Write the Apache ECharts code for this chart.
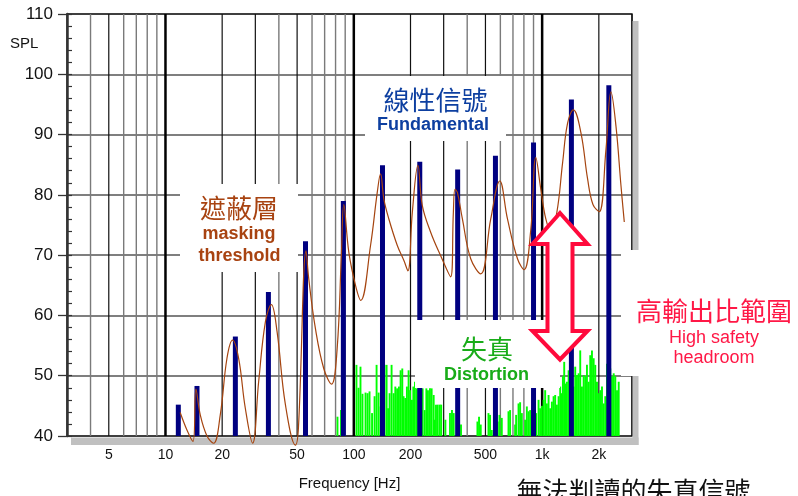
<!DOCTYPE html>
<html><head><meta charset="utf-8">
<script src="https://cdn.jsdelivr.net/npm/echarts@6/dist/echarts.min.js"></script>
<style>html,body{margin:0;padding:0;background:#fff}#c{width:798px;height:496px}</style>
</head><body><div id="c"></div>
<script>
// ---- data ----
const fundamentalFreq = [11.7, 14.7, 23.5, 35.2, 55.4, 88, 142, 224, 356, 565, 900, 1430, 2260];
const fundamentalSPL  = [45.2, 48.3, 56.5, 63.9, 72.3, 79.0, 84.9, 85.5, 84.2, 86.5, 88.7, 95.8, 98.2];

const maskFreq = [11.97, 13.0, 13.99, 14.51, 15.30, 16.61, 18.00, 19.54, 21.21, 22.72, 24.45, 26.54, 29.02, 31.24, 33.91, 36.50, 39.13, 43.33, 48.97, 50.80, 55.83, 57.63, 62.55, 69.24, 76.10, 81.58, 86.0, 88.47, 94.06, 102.1, 108.9, 122.7, 133.2, 138.7, 144.4, 153.5, 170.2, 184.5, 193.8, 204.5, 219.0, 231.1, 255.9, 289.2, 326.8, 337.8, 344.5, 354.8, 377.2, 417.6, 472.0, 533.5, 595.7, 654.5, 739.8, 802.3, 870.8, 926.0, 984.2, 1046, 1112, 1197, 1284, 1365, 1465, 1607, 1744, 1861, 2010, 2182, 2320, 2466, 2622, 2730];
const maskSPL  = [43.9, 41.0, 39.1, 47.8, 43.5, 40.0, 38.8, 43.5, 52.9, 55.9, 52.9, 44.6, 38.8, 49.0, 58.9, 61.8, 57.3, 45.2, 38.5, 41.3, 70.7, 66.1, 57.8, 51.2, 48.6, 54.5, 70.5, 78.4, 70.5, 65.0, 62.5, 71.6, 80.4, 83.5, 79.3, 76.0, 71.6, 69.1, 67.4, 77.1, 84.9, 78.2, 73.8, 69.9, 66.4, 77.1, 80.9, 80.4, 76.0, 69.4, 66.9, 76.0, 82.3, 76.0, 69.4, 67.6, 74.3, 86.2, 80.9, 76.0, 74.0, 77.1, 85.3, 91.9, 94.1, 90.3, 82.6, 78.4, 77.2, 87.5, 97.1, 91.4, 81.5, 75.5];

const distFreq = [81.9, 85.5, 103.3, 105.9, 108.5, 111.2, 115.4, 118.3, 121.2, 125.0, 128.9, 132.1, 135.4, 138.7, 142.1, 145.6, 149.3, 152.1, 154.9, 158.7, 162.7, 166.1, 169.8, 173.6, 177.2, 180.9, 183.8, 187.7, 191.4, 195.4, 199.1, 203.5, 207.0, 211.1, 216.4, 221.0, 226.4, 232.0, 237.8, 242.8, 247.6, 253.7, 259.0, 265.5, 268.7, 273.1, 278.9, 285.8, 291.1, 306.4, 324.1, 332.1, 339.1, 370.9, 453.3, 462.3, 472.1, 518.8, 529.0, 540.2, 581.4, 593.6, 610.6, 662.7, 675.8, 718.6, 727.5, 749.2, 763.9, 780.1, 812.2, 829.4, 846.8, 863.5, 881.7, 929.5, 957.2, 976.1, 996.6, 1017.6, 1037.8, 1059.6, 1081.9, 1103.2, 1126.5, 1150.2, 1172.9, 1197.7, 1222.9, 1247.0, 1273.3, 1289.0, 1309.7, 1332.0, 1353.7, 1382.2, 1409.5, 1439.3, 1469.6, 1498.6, 1530.2, 1562.4, 1593.2, 1626.8, 1661.0, 1693.8, 1729.6, 1766.0, 1800.9, 1838.8, 1877.5, 1914.6, 1955.0, 1996.1, 2035.5, 2078.5, 2122.2, 2164.1, 2209.6, 2256.1, 2300.7, 2349.2, 2398.7, 2446.0, 2497.6, 2550.2];
const distSPL  = [43.2, 44.3, 51.8, 48.0, 51.5, 47.0, 47.2, 47.1, 47.4, 43.8, 46.6, 51.8, 47.2, 44.9, 48.2, 51.8, 51.8, 44.6, 47.1, 51.8, 47.1, 48.2, 47.9, 48.2, 50.9, 51.2, 46.6, 46.3, 48.2, 50.9, 47.6, 46.0, 48.2, 49.0, 47.9, 46.6, 47.9, 47.9, 44.3, 47.9, 47.6, 47.9, 47.9, 46.8, 42.7, 45.2, 45.2, 45.2, 45.2, 42.7, 43.8, 44.3, 43.8, 41.9, 42.4, 43.2, 41.9, 43.8, 43.5, 41.0, 42.4, 43.5, 43.0, 44.1, 44.3, 41.9, 43.5, 45.4, 45.6, 43.8, 42.7, 44.9, 44.1, 44.3, 43.5, 43.8, 46.0, 44.6, 45.0, 46.0, 47.6, 45.4, 46.8, 44.6, 45.7, 46.6, 46.8, 45.2, 46.6, 48.2, 47.1, 49.9, 52.3, 48.7, 49.0, 50.9, 51.5, 49.9, 48.2, 51.5, 50.1, 50.4, 54.2, 48.2, 50.1, 49.9, 51.8, 49.0, 53.4, 54.2, 52.9, 51.8, 49.0, 47.1, 47.6, 48.2, 45.4, 46.6, 52.0, 52.9, 51.2, 49.9, 50.4, 49.9, 47.6, 49.0];

const gridFreq = [4, 5, 6, 7, 8, 9, 10, 20, 30, 40, 50, 60, 70, 80, 90, 100, 200, 300, 400, 500, 600, 700, 800, 900, 1000, 2000, 3000];
const xTickValues = [5, 10, 20, 50, 100, 200, 500, 1000, 2000];
const xTickLabels = ['5', '10', '20', '50', '100', '200', '500', '1k', '2k'];

const Y_MIN = 40, Y_MAX = 110;
const LATIN = '"Liberation Sans", Arial, sans-serif';
const CJK = '"Noto Sans CJK TC", "Noto Sans CJK SC", sans-serif';

function zip(a, b) { return a.map((v, i) => [v, b[i]]); }

function barRenderer(width, color) {
  return function (params, api) {
    const top = api.coord([api.value(0), api.value(1)]);
    const base = api.coord([api.value(0), Y_MIN]);
    return { type: 'rect', shape: { x: top[0] - width / 2, y: top[1], width: width, height: base[1] - top[1] }, style: { fill: color } };
  };
}

function gridRenderer(params, api) {
  const f = api.value(0);
  const top = api.coord([f, Y_MAX]);
  const bot = api.coord([f, Y_MIN]);
  const mant = Math.round(f / Math.pow(10, Math.floor(Math.log10(f) + 1e-9)));
  let stroke = '#7a7a7a', lw = 1.4;
  if (mant === 1) { stroke = '#000'; lw = 2.5; }
  else if (mant === 2 || mant === 3 || mant === 5) { stroke = '#111'; lw = 1.2; }
  return { type: 'line', shape: { x1: top[0], y1: top[1], x2: bot[0], y2: bot[1] }, style: { stroke: stroke, lineWidth: lw } };
}

function labelRenderer(params, api) {
  const p = api.coord([api.value(0), Y_MIN]);
  return { type: 'text', x: p[0], y: p[1] + 19, style: { text: xTickLabels[params.dataIndex], font: '14px ' + LATIN, fill: '#111', align: 'center', verticalAlign: 'middle' } };
}

const chart = echarts.init(document.getElementById('c'));
const txt = (t, x, y, font, fill) => ({ type: 'text', z: 8, x: x, y: y, style: { text: t, font: font, fill: fill, align: 'center', verticalAlign: 'middle' } });

chart.setOption({
  animation: false,
  backgroundColor: '#fff',
  grid: { left: 67, right: 166, top: 14, bottom: 58, show: true, borderColor: '#000', borderWidth: 1.3, backgroundColor: 'transparent' },
  xAxis: {
    type: 'log', logBase: 10, min: 3, max: 3000,
    axisLine: { show: false }, axisTick: { show: false }, axisLabel: { show: false }, splitLine: { show: false },
    name: 'Frequency [Hz]', nameLocation: 'middle', nameGap: 40,
    nameTextStyle: { fontSize: 15, color: '#111', fontFamily: LATIN }
  },
  yAxis: [
    {
      type: 'value', min: Y_MIN, max: Y_MAX, interval: 10,
      axisLine: { show: true, lineStyle: { color: '#333', width: 2.5 } },
      axisTick: { show: true, length: 9, lineStyle: { color: '#333', width: 1.3 } },
      axisLabel: { margin: 14, fontSize: 17, color: '#111', fontFamily: LATIN },
      splitLine: { show: true, showMinLine: false, showMaxLine: false, lineStyle: { color: '#555', width: 1.5 } }
    },
    {
      type: 'value', min: Y_MIN, max: Y_MAX, interval: 2, position: 'left', offset: 0,
      axisLine: { show: false }, axisLabel: { show: false }, splitLine: { show: false },
      axisTick: { show: true, inside: true, length: 5, lineStyle: { color: '#333', width: 1.2 } }
    }
  ],
  series: [
    { type: 'custom', z: 1, renderItem: gridRenderer, data: gridFreq.map(f => [f, Y_MAX]), silent: true },
    { type: 'custom', z: 3, renderItem: barRenderer(1.9, '#00ff00'), data: zip(distFreq, distSPL) },
    { type: 'custom', z: 3, renderItem: barRenderer(5, '#000080'), data: zip(fundamentalFreq, fundamentalSPL) },
    { type: 'line', z: 3, data: zip(maskFreq, maskSPL), smooth: 0.4, showSymbol: false, clip: false,
      lineStyle: { color: '#a5440f', width: 1.2 } },
    { type: 'custom', z: 8, renderItem: labelRenderer, data: xTickValues.map(v => [v, Y_MIN]) }
  ],
  graphic: [
    { type: 'rect', z: 2, shape: { x: 632.5, y: 21, width: 6, height: 424 }, style: { fill: '#c0c0c0' } },
    { type: 'rect', z: 2, shape: { x: 71, y: 437.5, width: 567.5, height: 7.5 }, style: { fill: '#c0c0c0' } },
    { type: 'rect', z: 5, shape: { x: 365, y: 76, width: 141, height: 65 }, style: { fill: '#fff' } },
    { type: 'rect', z: 5, shape: { x: 180, y: 184, width: 118, height: 88 }, style: { fill: '#fff' } },
    { type: 'rect', z: 5, shape: { x: 415, y: 320, width: 145, height: 68 }, style: { fill: '#fff' } },
    { type: 'rect', z: 5, shape: { x: 621, y: 250, width: 177, height: 126 }, style: { fill: '#fff' } },
    { type: 'polygon', z: 6, shape: { points: [[560, 213], [587.5, 244], [572.5, 244], [572.5, 331], [587.5, 331], [560, 359.5], [532.5, 331], [547.5, 331], [547.5, 244], [532.5, 244]] },
      style: { fill: '#fff', stroke: '#ff0a3c', lineWidth: 4, lineJoin: 'miter' } },
    { type: 'text', z: 8, x: 10, y: 44, style: { text: 'SPL', font: '15px ' + LATIN, fill: '#111', align: 'left', verticalAlign: 'middle' } },
    txt('線性信號', 435.5, 100, '26px ' + CJK, '#0d3fa0'),
    txt('Fundamental', 433, 125, 'bold 18px ' + LATIN, '#0d3fa0'),
    txt('遮蔽層', 239, 208, '26px ' + CJK, '#a84311'),
    txt('masking', 239, 234, 'bold 18px ' + LATIN, '#a84311'),
    txt('threshold', 239.5, 256, 'bold 18px ' + LATIN, '#a84311'),
    txt('失真', 487, 349, '26px ' + CJK, '#19ac19'),
    txt('Distortion', 486.5, 375, 'bold 18px ' + LATIN, '#19ac19'),
    txt('高輸出比範圍', 714, 311, '26px ' + CJK, '#ff1846'),
    txt('High safety', 714, 338, '18px ' + LATIN, '#ff1846'),
    txt('headroom', 714, 358.5, '18px ' + LATIN, '#ff1846'),
    txt('無法判讀的失真信號', 633.5, 491, '26px ' + CJK, '#111')
  ]
});
</script>
</body></html>
